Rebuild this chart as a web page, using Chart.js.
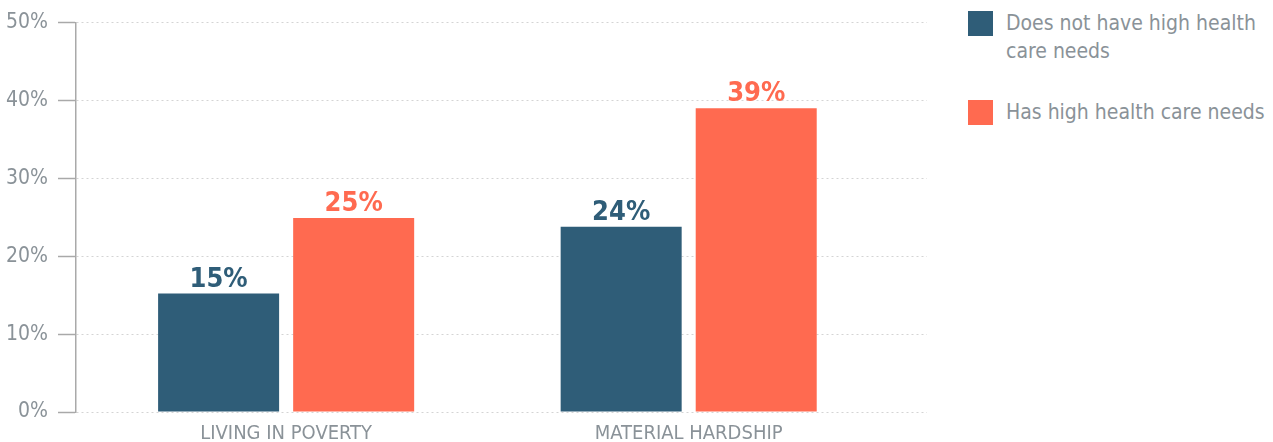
<!DOCTYPE html>
<html lang="en">

<head>
  <meta charset="UTF-8">
  <title>Poverty and Material Hardship by Health Care Needs</title>
  <script src="https://cdn.jsdelivr.net/npm/chart.js"></script>
  <style>
    body { margin: 0; background: #fff; font-family: 'DejaVu Sans Condensed', 'Liberation Sans Narrow', sans-serif; }
    #wrap { position: relative; width: 1273px; height: 442px; overflow: hidden; }
    #box { position: absolute; left: 0; top: 0; width: 940px; height: 442px; }
    .legend { position: absolute; left: 968px; color: #8a9298; font-size: 21px; line-height: 28px; }
    .legend span.sw { position: absolute; left: 0; width: 25px; height: 25px; }
    .legend div { margin-left: 38px; width: 262px; }
  </style>
</head>

<body>
  <div id="wrap">
    <div id="box"><canvas id="healthChart"></canvas></div>
    <div class="legend" style="top:9px"><span class="sw" style="top:2px;background:#2f5d78"></span><div>Does not have high health care needs</div></div>
    <div class="legend" style="top:98px"><span class="sw" style="top:2px;background:#ff6a50"></span><div>Has high health care needs</div></div>
  </div>

  <script>
    // chart data
    const categories = ['LIVING IN POVERTY', 'MATERIAL HARDSHIP'];
    const seriesNames = ['Does not have high health care needs', 'Has high health care needs'];
    const noHighNeeds = [15.2, 23.8];
    const highNeeds = [24.9, 39];
    const valueLabels = [['15%', '24%'], ['25%', '39%']];
    const yTicks = [0, 10, 20, 30, 40, 50];

    const colors = ['#2f5d78', '#ff6a50'];
    const gray = '#8a9298';
    const font = "'DejaVu Sans Condensed', 'Liberation Sans Narrow', sans-serif";

    // draws the % above each bar
    const barLabels = {
      id: 'barLabels',
      afterDatasetsDraw(chart) {
        const ctx = chart.ctx;
        ctx.save();
        ctx.font = 'bold 27px ' + font;
        ctx.textAlign = 'center';
        ctx.textBaseline = 'alphabetic';
        chart.data.datasets.forEach((ds, i) => {
          chart.getDatasetMeta(i).data.forEach((bar, j) => {
            ctx.fillStyle = colors[i];
            ctx.fillText(valueLabels[i][j], bar.x, bar.y - 7);
          });
        });
        ctx.restore();
      }
    };

    const ctx = document.getElementById('healthChart').getContext('2d');
    new Chart(ctx, {
      type: 'bar',
      data: {
        datasets: [
          { label: seriesNames[0], data: noHighNeeds.map((v, i) => ({ x: i, y: v })), backgroundColor: colors[0] },
          { label: seriesNames[1], data: highNeeds.map((v, i) => ({ x: i, y: v })), backgroundColor: colors[1] }
        ]
      },
      options: {
        responsive: true,
        maintainAspectRatio: false,
        animation: false,
        categoryPercentage: 0.671,
        barPercentage: 0.896,
        layout: { padding: { top: 21, right: 13, left: 0, bottom: 0 } },
        plugins: {
          legend: { display: false },
          tooltip: { enabled: false }
        },
        scales: {
          x: {
            type: 'linear',
            offset: false,
            min: -0.522,
            max: 1.592,
            afterBuildTicks: (scale) => { scale.ticks = categories.map((c, i) => ({ value: i })); },
            afterFit: (scale) => { scale.height = 30; },
            grid: { display: false, offset: false },
            border: { display: false },
            ticks: {
              color: gray,
              font: { family: font, size: 20 },
              padding: 2,
              maxRotation: 0,
              autoSkip: false,
              callback: (v) => categories[v]
            }
          },
          y: {
            min: 0,
            max: 50,
            afterBuildTicks: (scale) => { scale.ticks = yTicks.map(v => ({ value: v })); },
            afterFit: (scale) => { scale.width = 76; },
            grid: { color: '#d4d4d4', tickColor: '#a9a9a9', tickLength: 18, tickWidth: 1.5 },
            border: { color: '#a9a9a9', width: 1.5, dash: [2, 3] },
            ticks: {
              color: gray,
              font: { family: font, size: 21 },
              padding: 10,
              callback: (v) => v + '%'
            }
          }
        }
      },
      plugins: [barLabels]
    });
  </script>
</body>

</html>
